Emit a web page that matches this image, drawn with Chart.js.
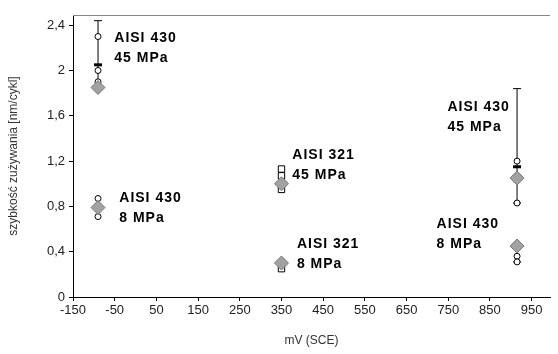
<!DOCTYPE html>
<html lang="pl">
<head>
  <meta charset="UTF-8" />
  <title>szybkość zużywania</title>
  <script src="https://cdn.jsdelivr.net/npm/chart.js@4.4.1/dist/chart.umd.min.js"></script>
  <style>
    body { margin: 0; background: #fff; }
    #wrap { width: 558px; height: 354px; position: relative; }
  </style>
</head>
<body>
  <div id="wrap"><canvas id="chart"></canvas></div>

  <script>
    // axis ticks
    const xTicks = [-150, -50, 50, 150, 250, 350, 450, 550, 650, 750, 850, 950];
    const yTicks = [0, 0.4, 0.8, 1.2, 1.6, 2, 2.4];

    // mean values (grey diamonds)
    const meanX = [-90, -90, 350, 350, 915, 915];
    const meanY = [1.85, 0.79, 1.0, 0.3, 1.05, 0.45];

    // single measurements, AISI 430 (circles)
    const circX = [-90, -90, -90, -90, -90, 915, 915, 915, 915];
    const circY = [2.3, 2.0, 1.9, 0.87, 0.71, 1.2, 0.83, 0.36, 0.31];

    // single measurements, AISI 321 (squares)
    const sqX = [350, 350, 350, 350];
    const sqY = [1.13, 1.07, 0.95, 0.25];

    // error bars
    const errX = [-90, 915, 915];
    const errLow = [1.85, 0.83, 0.31];
    const errHigh = [2.44, 1.84, 0.45];
    const tickX = [-90, 915];
    const tickY = [2.05, 1.15];

    // annotations
    const labelX = [-51, -39, 376, 387, 748, 722];
    const labelY = [2.29, 0.87, 1.25, 0.47, 1.68, 0.64];
    const labelText = [
      ['AISI 430', '45 MPa'],
      ['AISI 430', '8 MPa'],
      ['AISI 321', '45 MPa'],
      ['AISI 321', '8 MPa'],
      ['AISI 430', '45 MPa'],
      ['AISI 430', '8 MPa']
    ];

    const pts = (xs, ys) => xs.map((x, i) => ({ x: x, y: ys[i] }));

    const errSets = errX.map((x, i) => ({
      data: [{ x: x, y: errLow[i] }, { x: x, y: errHigh[i] }],
      showLine: true,
      borderColor: '#000',
      borderWidth: 1,
      pointStyle: 'line',
      pointRadius: 4,
      pointBorderColor: '#000',
      pointBorderWidth: 1,
      order: 3
    }));

    const labelPlugin = {
      id: 'labels',
      afterDatasetsDraw(chart) {
        const ctx = chart.ctx;
        const xs = chart.scales.x, ys = chart.scales.y;
        ctx.save();
        ctx.font = 'bold 14px "Liberation Sans", Arial, sans-serif';
        ctx.letterSpacing = '1px';
        ctx.fillStyle = '#000';
        ctx.textAlign = 'left';
        ctx.textBaseline = 'middle';
        labelText.forEach((lines, i) => {
          const px = xs.getPixelForValue(labelX[i]);
          const py = ys.getPixelForValue(labelY[i]);
          lines.forEach((t, j) => ctx.fillText(t, px, py + j * 20));
        });
        ctx.restore();
      }
    };

    const framePlugin = {
      id: 'frame',
      beforeDatasetsDraw(chart) {
        const { ctx, chartArea } = chart;
        ctx.save();
        ctx.strokeStyle = '#888';
        ctx.lineWidth = 1;
        ctx.beginPath();
        ctx.moveTo(chartArea.left, chartArea.top + 0.5);
        ctx.lineTo(chartArea.right, chartArea.top + 0.5);
        ctx.stroke();
        ctx.restore();
      }
    };

    const tickFont = { family: '"Liberation Sans", Arial, sans-serif', size: 13 };
    const titleFont = { family: '"Liberation Sans", Arial, sans-serif', size: 12 };

    new Chart(document.getElementById('chart'), {
      type: 'scatter',
      data: {
        datasets: [
          {
            data: pts(meanX, meanY),
            pointStyle: 'rectRot',
            pointRadius: 7,
            pointBackgroundColor: '#a2a2a2',
            pointBorderColor: '#777',
            pointBorderWidth: 1,
            order: 0
          },
          {
            data: pts(circX, circY),
            pointStyle: 'circle',
            pointRadius: 3,
            pointBackgroundColor: '#fff',
            pointBorderColor: '#000',
            pointBorderWidth: 1,
            order: 1
          },
          {
            data: pts(sqX, sqY),
            pointStyle: 'rect',
            pointRadius: 4.5,
            pointBackgroundColor: '#fff',
            pointBorderColor: '#000',
            pointBorderWidth: 1,
            order: 1
          },
          {
            data: pts(tickX, tickY),
            pointStyle: 'line',
            pointRadius: 4,
            pointBorderColor: '#000',
            pointBorderWidth: 3,
            order: 2
          },
          ...errSets
        ]
      },
      options: {
        responsive: true,
        maintainAspectRatio: false,
        animation: false,
        layout: { padding: { top: 15, right: 0, left: 0, bottom: 0 } },
        plugins: {
          legend: { display: false },
          tooltip: { enabled: false }
        },
        scales: {
          x: {
            type: 'linear',
            min: -150,
            max: 994,
            afterBuildTicks: s => { s.ticks = xTicks.map(v => ({ value: v })); },
            afterFit: s => { s.height = 57; },
            grid: { drawOnChartArea: false, tickLength: 4, color: '#000' },
            border: { color: '#000' },
            ticks: { color: '#222', padding: 2, maxRotation: 0, font: tickFont },
            title: {
              display: true,
              text: 'mV (SCE)',
              color: '#333',
              padding: { top: 4, bottom: 6 },
              font: titleFont
            }
          },
          y: {
            min: 0,
            max: 2.49,
            afterBuildTicks: s => { s.ticks = yTicks.map(v => ({ value: v })); },
            afterFit: s => { s.width = 73; },
            grid: { drawOnChartArea: false, tickLength: 4, color: '#000' },
            border: { color: '#000' },
            ticks: {
              color: '#222',
              padding: 4,
              callback: v => String(v).replace('.', ','),
              font: tickFont
            },
            title: {
              display: true,
              text: 'szybkość zużywania [nm/cykl]',
              color: '#333',
              padding: { top: 6, bottom: 4 },
              font: titleFont
            }
          }
        }
      },
      plugins: [framePlugin, labelPlugin]
    });
  </script>
</body>
</html>
